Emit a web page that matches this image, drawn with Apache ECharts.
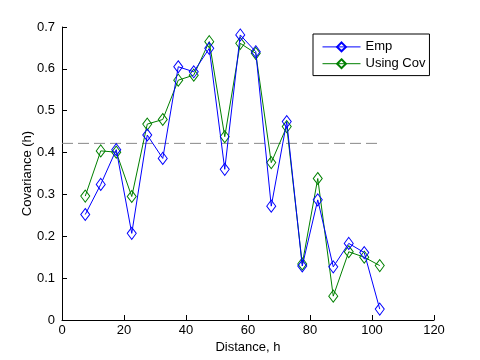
<!DOCTYPE html>
<html><head><meta charset="utf-8">
<script src="https://cdn.jsdelivr.net/npm/echarts@6/dist/echarts.min.js"></script>
<style>html,body{margin:0;padding:0;background:#fff}#c{width:480px;height:360px}</style>
</head><body><div id="c"></div>
<script>
var distances = [7.5,12.5,17.5,22.5,27.5,32.5,37.5,42.5,47.5,52.5,57.5,62.5,67.5,72.5,77.5,82.5,87.5,92.5,97.5,102.5];
var empValues = [0.252,0.324,0.407,0.207,0.442,0.386,0.605,0.593,0.649,0.360,0.681,0.641,0.272,0.474,0.129,0.287,0.127,0.183,0.161,0.026];
var covValues = [0.296,0.404,0.401,0.295,0.468,0.479,0.573,0.585,0.665,0.438,0.661,0.637,0.376,0.462,0.134,0.338,0.057,0.163,0.150,0.130];
var refLevel = 0.422;
var refRange = [0, 102.5];
var xTicks = [0,20,40,60,80,100,120];
var yTicks = [0,0.1,0.2,0.3,0.4,0.5,0.6,0.7];

var font = 'Liberation Sans, Arial, sans-serif';
var fs = 13;
function pairs(xs, ys){ return xs.map(function(x,i){return [x, ys[i]];}); }
var chart = echarts.init(document.getElementById('c'));
chart.setOption({
  animation:false,
  backgroundColor:'#fff',
  grid:{left:62,right:46,top:27,bottom:40},
  legend:{
    left:313, top:34, orient:'vertical',
    data:['Emp','Using Cov'],
    borderColor:'#000', borderWidth:1, borderRadius:0,
    padding:[6,4,5,9], itemGap:3, itemWidth:38, itemHeight:11,
    lineStyle:{width:1},
    textStyle:{fontFamily:font,fontSize:fs,color:'#000'}
  },
  xAxis:{
    type:'value', min:xTicks[0], max:xTicks[xTicks.length-1], interval:20,
    name:'Distance, h', nameLocation:'middle', nameGap:21, nameMoveOverlap:false,
    nameTextStyle:{fontFamily:font,fontSize:fs,color:'#000'},
    axisLine:{lineStyle:{color:'#000'}},
    axisTick:{inside:true,length:5,lineStyle:{color:'#000'}},
    axisLabel:{fontFamily:font,fontSize:fs,color:'#000',margin:4},
    splitLine:{show:false}
  },
  yAxis:{
    type:'value', min:yTicks[0], max:yTicks[yTicks.length-1], interval:0.1,
    name:'Covariance (h)', nameLocation:'middle', nameGap:28, nameRotate:90, nameMoveOverlap:false,
    nameTextStyle:{fontFamily:font,fontSize:fs,color:'#000'},
    axisLine:{show:true,lineStyle:{color:'#000'}},
    axisTick:{show:true,inside:true,length:5,lineStyle:{color:'#000'}},
    axisLabel:{fontFamily:font,fontSize:fs,color:'#000',margin:7,
      formatter:function(v){return String(Math.round(v*10)/10);}},
    splitLine:{show:false}
  },
  series:[
    {name:'ref', type:'line', data:pairs(refRange,[refLevel,refLevel]), symbol:'none',
     lineStyle:{color:'#888',width:1,type:[11,5]}, silent:true, z:1},
    {name:'Emp', type:'line', data:pairs(distances, empValues),
     symbol:'diamond', symbolSize:[9,12], showAllSymbol:true,
     itemStyle:{color:'none',borderColor:'#0000ff',borderWidth:1},
     lineStyle:{color:'#0000ff',width:1}, z:3},
    {name:'Using Cov', type:'line', data:pairs(distances, covValues),
     symbol:'diamond', symbolSize:[9,12], showAllSymbol:true,
     itemStyle:{color:'none',borderColor:'#008000',borderWidth:1},
     lineStyle:{color:'#008000',width:1}, z:2}
  ]
});
</script></body></html>
